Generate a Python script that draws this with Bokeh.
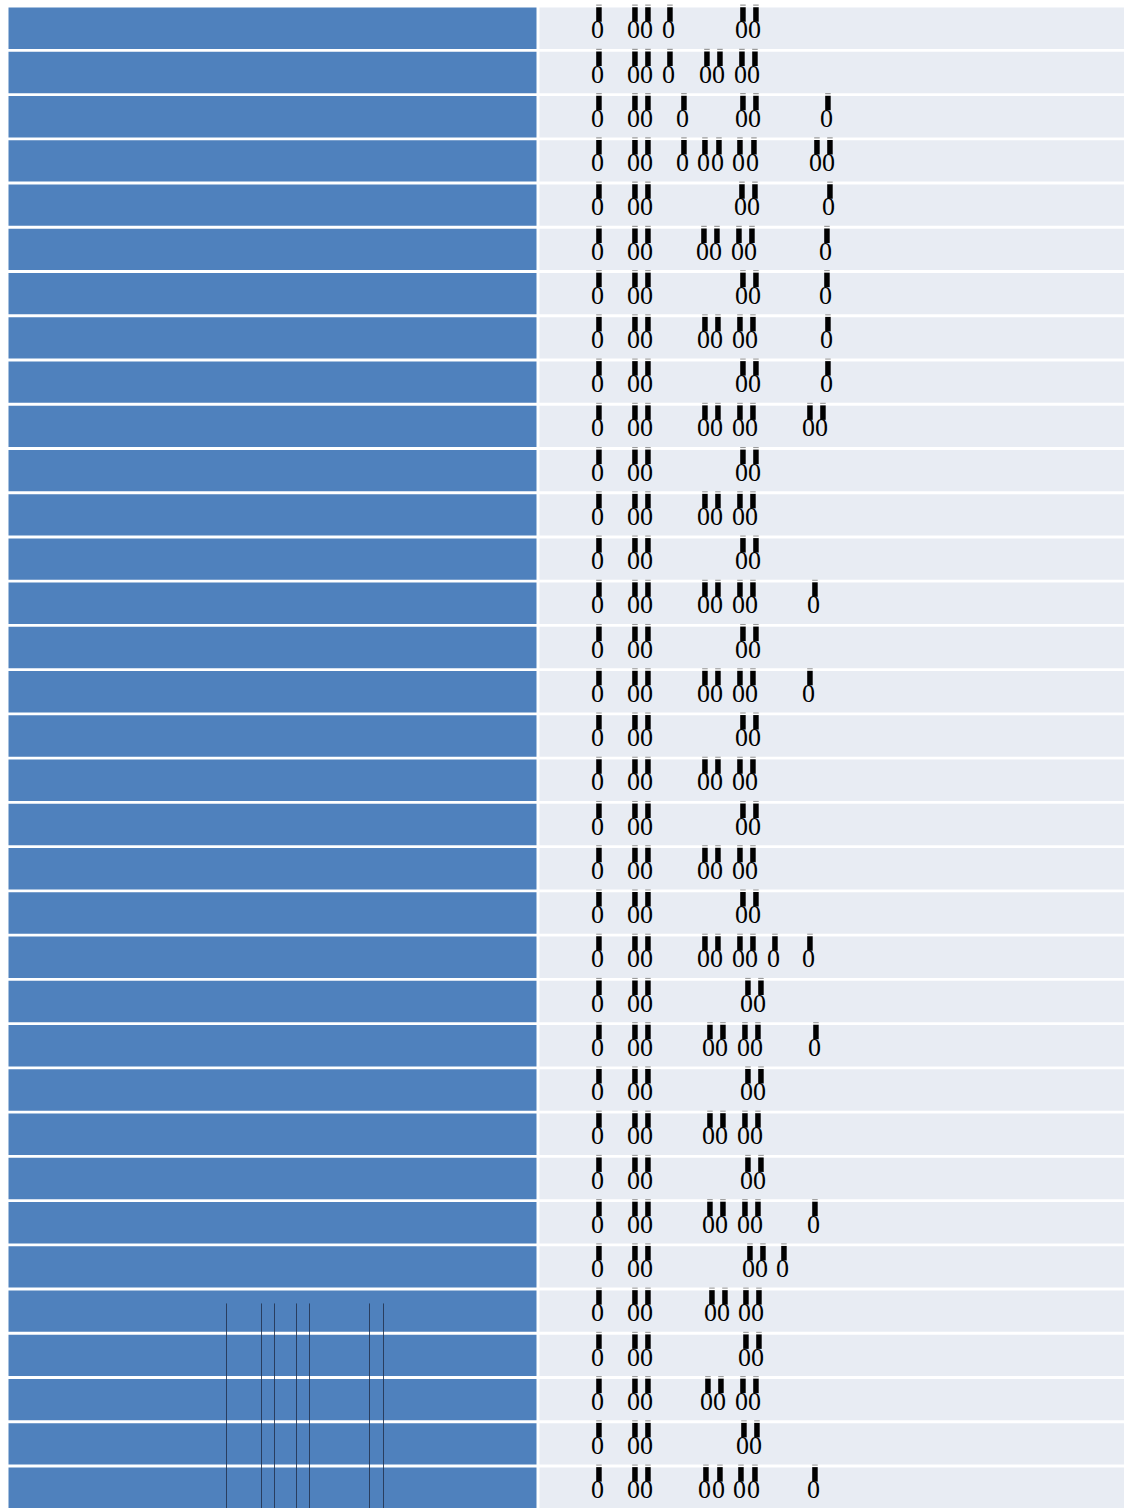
from bokeh.plotting import figure
from bokeh.models import Range1d, ColumnDataSource
from bokeh.embed import file_html
from bokeh.resources import INLINE
from bokeh.core.properties import value

# ---------------- data ----------------
row_ids = list(range(34))

# x value of every "0" marker in each row (chart units)
marker_values = [
    [597, 633, 646, 668, 741, 754],
    [597, 633, 646, 668, 705, 718, 740, 753],
    [597, 633, 646, 682, 741, 754, 826],
    [597, 633, 646, 682, 703, 717, 738, 752, 815, 828],
    [597, 633, 646, 740, 753, 828],
    [597, 633, 646, 702, 715, 737, 750, 825],
    [597, 633, 646, 741, 754, 825],
    [597, 633, 646, 703, 716, 738, 751, 826],
    [597, 633, 646, 741, 754, 826],
    [597, 633, 646, 703, 716, 738, 751, 808, 821],
    [597, 633, 646, 741, 754],
    [597, 633, 646, 703, 716, 738, 751],
    [597, 633, 646, 741, 754],
    [597, 633, 646, 703, 716, 738, 751, 813],
    [597, 633, 646, 741, 754],
    [597, 633, 646, 703, 716, 738, 751, 808],
    [597, 633, 646, 741, 754],
    [597, 633, 646, 703, 716, 738, 751],
    [597, 633, 646, 741, 754],
    [597, 633, 646, 703, 716, 738, 751],
    [597, 633, 646, 741, 754],
    [597, 633, 646, 703, 716, 738, 751, 773, 808],
    [597, 633, 646, 746, 759],
    [597, 633, 646, 708, 721, 743, 756, 814],
    [597, 633, 646, 746, 759],
    [597, 633, 646, 708, 721, 743, 756],
    [597, 633, 646, 746, 759],
    [597, 633, 646, 708, 721, 743, 756, 813],
    [597, 633, 646, 748, 761, 782],
    [597, 633, 646, 710, 723, 744, 757],
    [597, 633, 646, 744, 757],
    [597, 633, 646, 706, 719, 741, 754],
    [597, 633, 646, 742, 755],
    [597, 633, 646, 704, 718, 739, 753, 813],
]

# thin vertical rules in the lower part of the first column (chart units)
rule_values = [226, 261, 274, 296, 309, 369, 383]

marker_text = "0"

# ---------------- layout / styles ----------------
W, H = 1124, 1508
ROW_PITCH = 44.24
ROW_OFFSET = 7.0
CELL_H = 41.4
LEFT_COL = (8, 536)
RIGHT_COL = (539, 1124)
BLUE = "#4F81BD"
GRAY = "#E8ECF3"

p = figure(width=W, height=H, output_backend="svg", toolbar_location=None,
           x_range=Range1d(0, W), y_range=Range1d(H, 0),
           x_axis_location=None, y_axis_location=None, min_border=0)
p.grid.visible = False
p.outline_line_color = None
p.background_fill_color = "white"
p.border_fill_color = "white"

tops = [ROW_OFFSET + ROW_PITCH * r for r in row_ids]
bottoms = [t + CELL_H for t in tops]

cells = ColumnDataSource(dict(top=tops, bottom=bottoms))
p.quad(left=LEFT_COL[0], right=LEFT_COL[1], top="top", bottom="bottom",
       source=cells, fill_color=BLUE, line_color=None)
p.quad(left=RIGHT_COL[0], right=RIGHT_COL[1], top="top", bottom="bottom",
       source=cells, fill_color=GRAY, line_color=None)

mx, my, bar_l, bar_r, bar_t, bar_b, cap_t, cap_b = [], [], [], [], [], [], [], []
for r, vals in zip(row_ids, marker_values):
    t = tops[r]
    for v in vals:
        mx.append(v)
        my.append(t + 22.3)
        bar_l.append(v - 1.3)
        bar_r.append(v + 4.2)
        bar_t.append(t - 0.3)
        bar_b.append(t + 14.2)
        cap_t.append(t - 2.9)
        cap_b.append(t - 1.8)

msrc = ColumnDataSource(dict(x=mx, y=my, txt=[marker_text] * len(mx),
                             bl=bar_l, br=bar_r, bt=bar_t, bb=bar_b,
                             ct=cap_t, cb=cap_b))
p.quad(left="bl", right="br", top="ct", bottom="cb", source=msrc,
       fill_color="#9a9a9a", line_color=None)
p.quad(left="bl", right="br", top="bt", bottom="bb", source=msrc,
       fill_color="black", line_color=None)
p.text(x="x", y="y", text="txt", source=msrc, text_align="center",
       text_baseline="middle", text_font=value("Liberation Serif"),
       text_font_size="26px", text_color="black")

rule_top = ROW_OFFSET + ROW_PITCH * 29 + 13
p.segment(x0=rule_values, x1=rule_values, y0=[rule_top] * len(rule_values),
          y1=[H] * len(rule_values), line_color="#22324f", line_width=1,
          line_alpha=0.85)

open("out.html", "w").write(file_html(p, INLINE))
